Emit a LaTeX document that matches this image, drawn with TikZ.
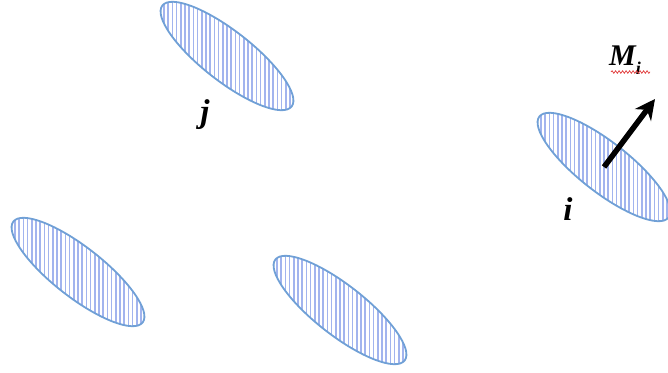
\documentclass[tikz,border=0pt]{standalone}
\usepackage{fontspec}
\setmainfont{Liberation Serif}
\usetikzlibrary{arrows.meta,calc,decorations.pathmorphing}
\definecolor{rimblue}{RGB}{112,160,214}
\definecolor{hatchblue}{RGB}{162,180,238}
\definecolor{spellred}{RGB}{225,60,60}

\begin{document}
\begin{tikzpicture}[x=1pt, y=-1pt, >=Stealth,
  rim/.style={draw=rimblue, line width=1.8pt},
  hatch/.style={draw=hatchblue, line width=1.5pt},
  lbl/.style={font=\fontsize{33}{35}\selectfont\bfseries\itshape, inner sep=0pt}]
  \useasboundingbox (0,0) rectangle (668,372);
  % the four grains, all tilted the same way
  \foreach \name/\cx/\cy in {j/227/56, a/78/272, b/340/310, i/604/167} {
    \coordinate (\name) at (\cx,\cy);
    \begin{scope}
      \clip[rotate around={-38:(\name)}] (\name) ellipse [x radius=82, y radius=25];
      \foreach \k in {-17,...,17}
        \draw[hatch] ($(\name)+(4.2*\k,-70)$) -- ++(0,140);
    \end{scope}
    \draw[rim, rotate around={-38:(\name)}] (\name) ellipse [x radius=82, y radius=25];
  }
  \node[lbl] (jlab) at (205,115) {j};
  \node[lbl] (ilab) at (568,209) {i};
  \node[font=\fontsize{30}{32}\selectfont\bfseries\itshape, inner sep=0pt, anchor=base west] (Mlab) at (609,65)
    {M\raisebox{-0.3em}{\fontsize{18}{18}\selectfont i}};
  \coordinate (Mtip) at (655,99);
  \draw[line width=5.5pt, -{Stealth[length=20pt,width=20pt]}] (i) -- (Mtip);
  % spell-check squiggle under the label
  \coordinate (sqa) at (611,72);
  \coordinate (sqb) at (650,72);
  \draw[spellred, line width=0.7pt, decorate, decoration={snake, amplitude=1.3pt, segment length=3.5pt}] (sqa) -- (sqb);
\end{tikzpicture}
\end{document}
